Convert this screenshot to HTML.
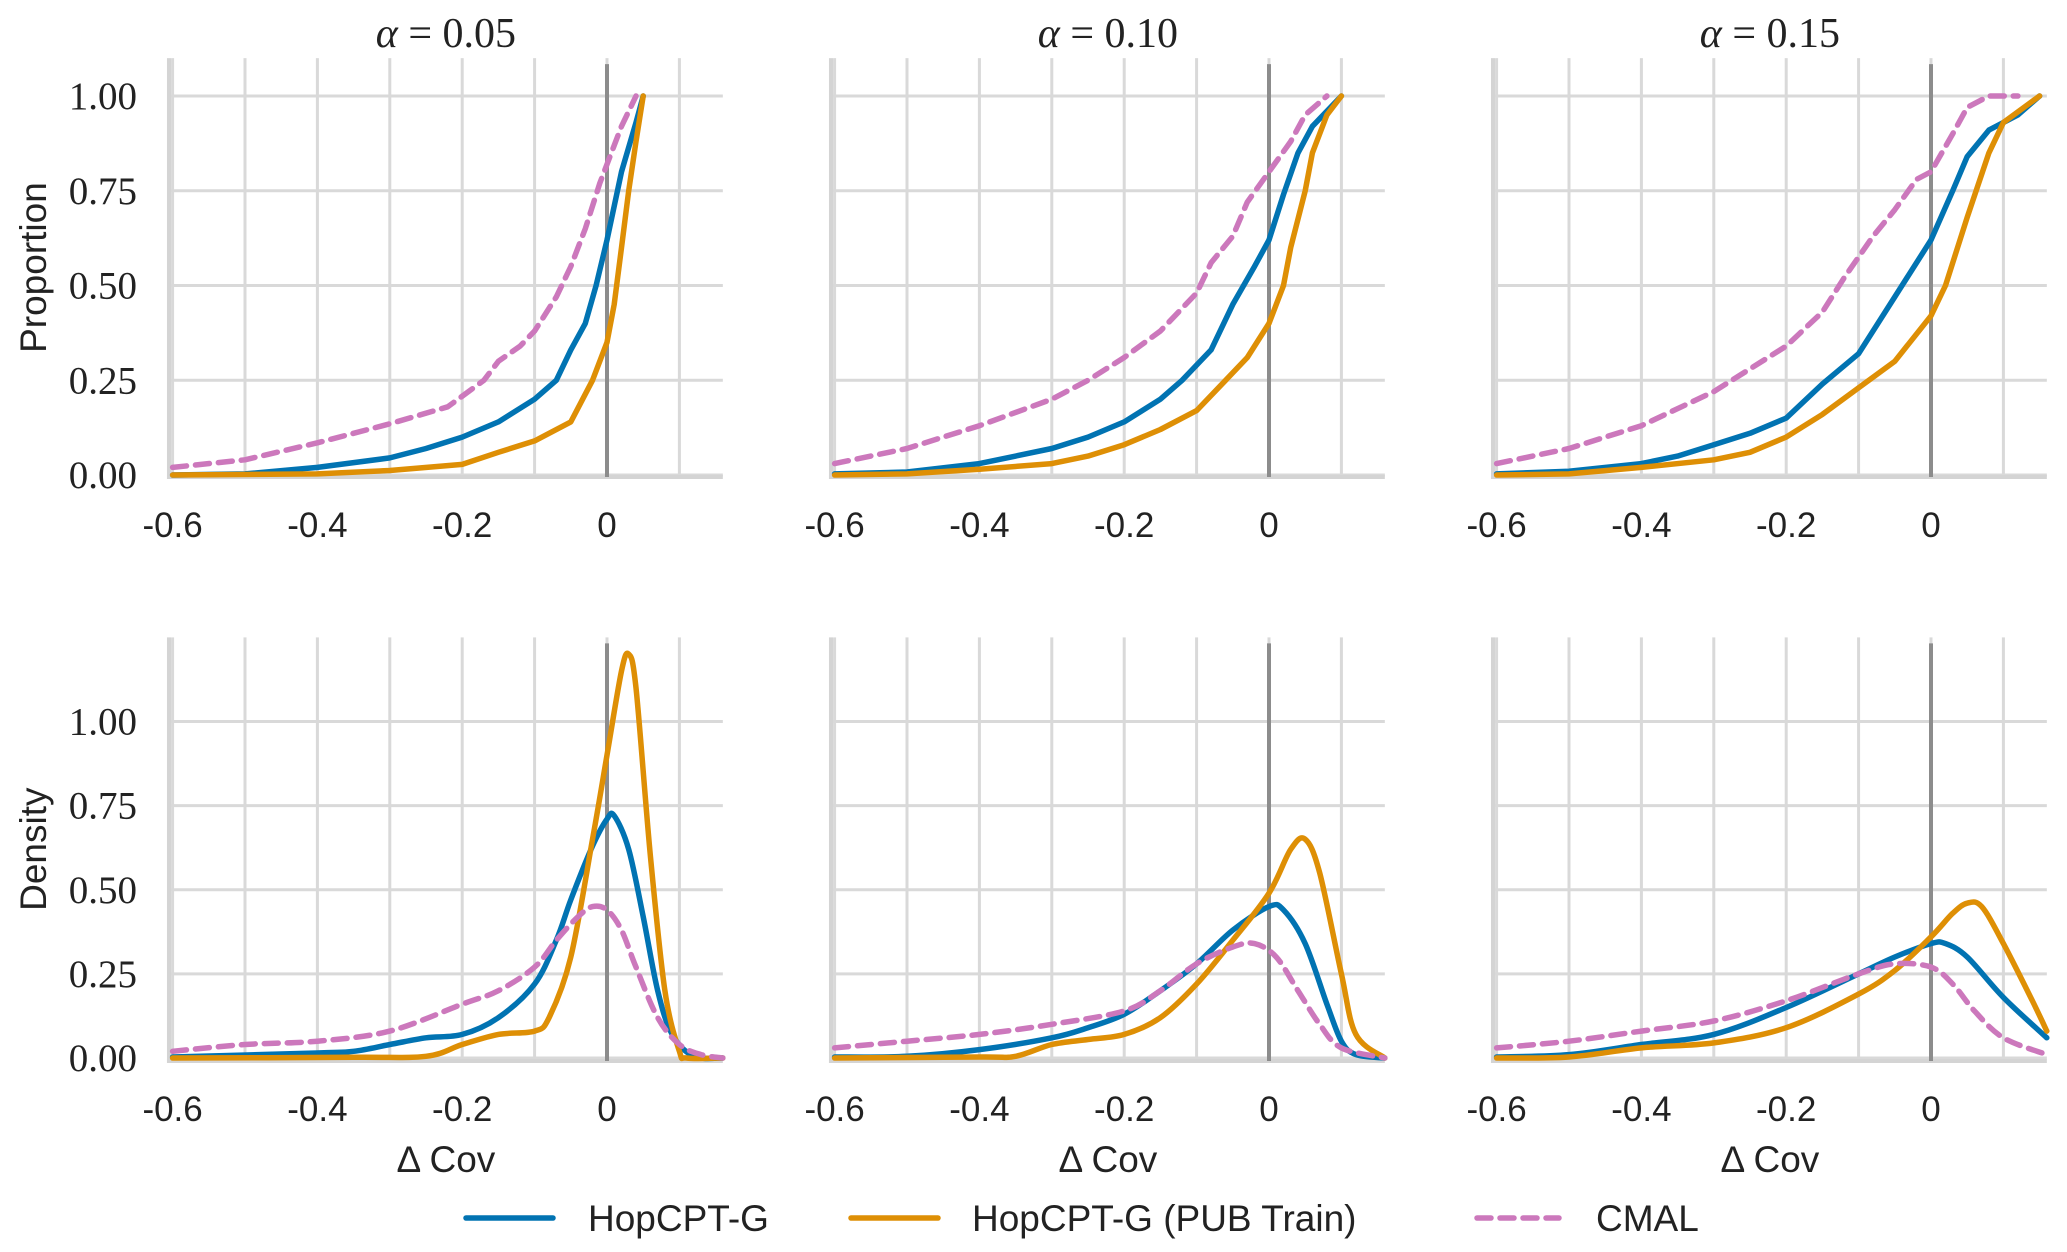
<!DOCTYPE html>
<html><head><meta charset="utf-8">
<style>
html,body{margin:0;padding:0;background:#fff;}
svg{display:block;}
.tk{font-family:"Liberation Serif",serif;font-size:39px;fill:#222;}
.xt{font-family:"Liberation Sans",sans-serif;font-size:35px;fill:#222;}
.lb{font-family:"Liberation Sans",sans-serif;font-size:37px;fill:#222;}
.ti{font-family:"Liberation Serif",serif;font-size:42px;fill:#222;}
</style></head>
<body>
<svg id="chart" width="2067" height="1252" xmlns="http://www.w3.org/2000/svg"></svg>
<script>
const alphas=["0.05","0.10","0.15"];
const seriesNames=["HopCPT-G","HopCPT-G (PUB Train)","CMAL"];
const xTicks=[-0.6,-0.4,-0.2,0];
const xTickLabels=["-0.6","-0.4","-0.2","0"];
const yTicks=[0,0.25,0.5,0.75,1];
const yTickLabels=["0.00","0.25","0.50","0.75","1.00"];
// ECDF data [x,y]
const ecdfBlue1=[[-0.6,0],[-0.5,0.003],[-0.4,0.02],[-0.3,0.045],[-0.25,0.07],[-0.2,0.1],[-0.15,0.14],[-0.1,0.2],[-0.07,0.25],[-0.05,0.33],[-0.03,0.4],[-0.015,0.5],[0,0.62],[0.02,0.8],[0.04,0.93],[0.05,1]];
const ecdfOrange1=[[-0.6,0],[-0.4,0.003],[-0.3,0.012],[-0.2,0.028],[-0.15,0.06],[-0.1,0.09],[-0.05,0.14],[-0.02,0.25],[0,0.35],[0.01,0.45],[0.02,0.6],[0.03,0.75],[0.04,0.88],[0.05,1]];
const ecdfPink1=[[-0.6,0.02],[-0.5,0.04],[-0.4,0.085],[-0.3,0.135],[-0.22,0.18],[-0.17,0.25],[-0.15,0.3],[-0.12,0.34],[-0.1,0.38],[-0.07,0.47],[-0.05,0.55],[-0.03,0.65],[-0.01,0.77],[0.02,0.92],[0.04,1]];
const ecdfBlue2=[[-0.6,0.003],[-0.5,0.008],[-0.4,0.03],[-0.3,0.07],[-0.25,0.1],[-0.2,0.14],[-0.15,0.2],[-0.12,0.25],[-0.08,0.33],[-0.05,0.45],[-0.02,0.55],[0,0.62],[0.02,0.74],[0.04,0.85],[0.06,0.92],[0.08,0.96],[0.1,1]];
const ecdfOrange2=[[-0.6,0],[-0.5,0.003],[-0.4,0.015],[-0.3,0.03],[-0.25,0.05],[-0.2,0.08],[-0.15,0.12],[-0.1,0.17],[-0.06,0.25],[-0.03,0.31],[0,0.4],[0.02,0.5],[0.03,0.6],[0.05,0.75],[0.06,0.85],[0.08,0.95],[0.1,1]];
const ecdfPink2=[[-0.6,0.03],[-0.5,0.07],[-0.4,0.13],[-0.3,0.2],[-0.25,0.25],[-0.2,0.31],[-0.15,0.38],[-0.1,0.48],[-0.08,0.56],[-0.05,0.63],[-0.03,0.72],[0,0.8],[0.03,0.88],[0.05,0.95],[0.08,1]];
const ecdfBlue3=[[-0.6,0.003],[-0.5,0.01],[-0.4,0.03],[-0.35,0.05],[-0.3,0.08],[-0.25,0.11],[-0.2,0.15],[-0.15,0.24],[-0.1,0.32],[-0.05,0.47],[0,0.62],[0.03,0.75],[0.05,0.84],[0.08,0.91],[0.12,0.95],[0.15,1]];
const ecdfOrange3=[[-0.6,0],[-0.5,0.003],[-0.4,0.02],[-0.3,0.04],[-0.25,0.06],[-0.2,0.1],[-0.15,0.16],[-0.1,0.23],[-0.05,0.3],[0,0.42],[0.02,0.5],[0.05,0.68],[0.08,0.85],[0.1,0.93],[0.15,1]];
const ecdfPink3=[[-0.6,0.03],[-0.5,0.07],[-0.4,0.13],[-0.3,0.22],[-0.25,0.28],[-0.2,0.34],[-0.15,0.43],[-0.12,0.52],[-0.08,0.63],[-0.05,0.7],[-0.02,0.78],[0,0.8],[0.03,0.9],[0.05,0.97],[0.08,1],[0.12,1]];
// Density data [x,y]
const densBlue1=[[-0.6,0.003],[-0.4,0.015],[-0.35,0.02],[-0.3,0.04],[-0.25,0.06],[-0.2,0.07],[-0.15,0.12],[-0.1,0.22],[-0.07,0.35],[-0.05,0.47],[-0.02,0.63],[0,0.71],[0.01,0.72],[0.03,0.62],[0.05,0.42],[0.07,0.2],[0.09,0.07],[0.12,0.005],[0.16,0]];
const densOrange1=[[-0.6,0],[-0.35,0.002],[-0.25,0.005],[-0.2,0.04],[-0.15,0.07],[-0.1,0.08],[-0.08,0.12],[-0.05,0.3],[-0.02,0.65],[0,0.9],[0.02,1.15],[0.03,1.2],[0.04,1.1],[0.06,0.6],[0.08,0.2],[0.1,0.02],[0.11,0],[0.16,0]];
const densPink1=[[-0.6,0.02],[-0.5,0.04],[-0.4,0.05],[-0.3,0.08],[-0.2,0.16],[-0.15,0.2],[-0.1,0.27],[-0.07,0.35],[-0.04,0.42],[-0.02,0.45],[0,0.44],[0.02,0.38],[0.04,0.27],[0.07,0.12],[0.1,0.04],[0.13,0.01],[0.16,0]];
const densBlue2=[[-0.6,0.003],[-0.5,0.005],[-0.4,0.025],[-0.3,0.06],[-0.25,0.09],[-0.2,0.13],[-0.15,0.2],[-0.1,0.28],[-0.05,0.38],[0,0.45],[0.02,0.44],[0.05,0.34],[0.08,0.16],[0.1,0.05],[0.12,0.01],[0.16,0]];
const densOrange2=[[-0.6,0],[-0.4,0.003],[-0.35,0.005],[-0.3,0.04],[-0.25,0.055],[-0.2,0.07],[-0.15,0.12],[-0.1,0.22],[-0.05,0.35],[0,0.49],[0.03,0.62],[0.05,0.65],[0.07,0.55],[0.1,0.25],[0.12,0.07],[0.16,0]];
const densPink2=[[-0.6,0.03],[-0.5,0.05],[-0.4,0.07],[-0.3,0.1],[-0.2,0.14],[-0.15,0.2],[-0.1,0.28],[-0.05,0.33],[-0.02,0.34],[0.01,0.3],[0.04,0.2],[0.07,0.1],[0.1,0.03],[0.16,0]];
const densBlue3=[[-0.6,0.003],[-0.5,0.01],[-0.4,0.04],[-0.3,0.07],[-0.2,0.15],[-0.1,0.25],[-0.05,0.3],[0,0.34],[0.02,0.34],[0.05,0.3],[0.1,0.18],[0.16,0.06]];
const densOrange3=[[-0.6,0],[-0.5,0.003],[-0.4,0.03],[-0.3,0.045],[-0.2,0.09],[-0.1,0.19],[-0.05,0.26],[0,0.36],[0.03,0.43],[0.05,0.46],[0.07,0.45],[0.1,0.34],[0.14,0.17],[0.16,0.08]];
const densPink3=[[-0.6,0.03],[-0.5,0.05],[-0.4,0.08],[-0.3,0.11],[-0.2,0.17],[-0.1,0.25],[-0.05,0.28],[0,0.27],[0.03,0.22],[0.06,0.14],[0.1,0.06],[0.16,0.01]];

const ecdfSets=[[ecdfBlue1,ecdfOrange1,ecdfPink1],[ecdfBlue2,ecdfOrange2,ecdfPink2],[ecdfBlue3,ecdfOrange3,ecdfPink3]];
const densSets=[[densBlue1,densOrange1,densPink1],[densBlue2,densOrange2,densPink2],[densBlue3,densOrange3,densPink3]];

const NS="http://www.w3.org/2000/svg";
const svg=document.getElementById('chart');
const colors=["#0173b2","#de8f05","#cc78bc"];
const XMIN=-0.605,XMAX=0.16,PXU=724,COLOFF=662,ZERO0=607;
function mk(tag,attrs,parent){const e=document.createElementNS(NS,tag);for(const k in attrs)e.setAttribute(k,attrs[k]);(parent||svg).appendChild(e);return e;}
function xs(col,v){return ZERO0+col*COLOFF+v*PXU;}
function smoothPath(pts){
  let d='M'+pts[0][0].toFixed(1)+','+pts[0][1].toFixed(1);
  for(let i=0;i<pts.length-1;i++){
    const p0=pts[Math.max(0,i-1)],p1=pts[i],p2=pts[i+1],p3=pts[Math.min(pts.length-1,i+2)];
    const c1x=p1[0]+(p2[0]-p0[0])/6,c1y=p1[1]+(p2[1]-p0[1])/6;
    const c2x=p2[0]-(p3[0]-p1[0])/6,c2y=p2[1]-(p3[1]-p1[1])/6;
    d+=` C${c1x.toFixed(1)},${c1y.toFixed(1)} ${c2x.toFixed(1)},${c2y.toFixed(1)} ${p2[0].toFixed(1)},${p2[1].toFixed(1)}`;
  }
  return d;
}
const rows=[{y0:475,pu:379,ymax:1.1,spine:477,sets:ecdfSets,ylabel:"Proportion"},
            {y0:1058,pu:336.5,ymax:1.25,spine:1061,sets:densSets,ylabel:"Density"}];
rows.forEach((r,ri)=>{
  const ys=v=>r.y0-v*r.pu;
  for(let c=0;c<3;c++){
    const g=mk('g',{});
    
    
    const L=xs(c,XMIN),R=xs(c,XMAX),T=ys(r.ymax);
    for(let k=-6;k<=1;k++){const x=xs(c,k/10);const gl=mk('line',{x1:x,x2:x,y1:T,y2:r.spine,stroke:"#d9d9d9","stroke-width":3},g);
      }
    yTicks.forEach(v=>{const y=ys(v);const gl=mk('line',{x1:L,x2:R,y1:y,y2:y,stroke:"#d9d9d9","stroke-width":3},g);
      });
    const sp1=mk('line',{x1:L,x2:L,y1:T,y2:r.spine+2,stroke:"#d4d4d4","stroke-width":4},g);
    
    const sp2=mk('line',{x1:L-2,x2:R,y1:r.spine,y2:r.spine,stroke:"#d4d4d4","stroke-width":4},g);
    
    const zl=mk('line',{x1:xs(c,0),x2:xs(c,0),y1:T+6,y2:r.spine,stroke:"#8c8c8c","stroke-width":4},g);
    
    r.sets[c].forEach((data,si)=>{
      const pts=data.map(p=>[xs(c,p[0]),ys(p[1])]);
      const d=ri==1?smoothPath(pts):pts.map((p,i)=>(i?'L':'M')+p[0].toFixed(1)+','+p[1].toFixed(1)).join(' ');
      const attrs={d:d,fill:"none",stroke:colors[si],"stroke-width":5.5,"stroke-linejoin":"round","stroke-linecap":"round"};
      if(si==2)attrs["stroke-dasharray"]="14,9";
      const p=mk('path',attrs,g);
      
      
    });
    xTicks.forEach((v,i)=>{const t=mk('text',{x:xs(c,v),y:r.spine+60,"text-anchor":"middle",class:"xt"},g);t.textContent=xTickLabels[i];
      });
    if(c==0){
      yTicks.forEach((v,i)=>{const t=mk('text',{x:137,y:ys(v)+13,"text-anchor":"end",class:"tk"},g);t.textContent=yTickLabels[i];
        });
      const yl=mk('text',{x:0,y:0,"text-anchor":"middle",class:"lb",transform:`translate(46,${(T+r.spine)/2}) rotate(-90)`},g);
      yl.textContent=r.ylabel;
      
    }
    if(ri==0){const t=mk('text',{x:(L+R)/2,y:47,"text-anchor":"middle",class:"ti"},g);
      t.innerHTML='<tspan font-style="italic">α</tspan> = '+alphas[c];
      }
    else{const t=mk('text',{x:(L+R)/2,y:1172,"text-anchor":"middle",class:"lb"},g);t.textContent='Δ Cov';
      }
  }
});
// legend
const legX=[[466,553,588],[851,938,972],[1477,1559,1596]];
seriesNames.forEach((n,i)=>{
  const g=mk('g',{});
  
  
  const a={x1:legX[i][0],x2:legX[i][1],y1:1218,y2:1218,stroke:colors[i],"stroke-width":5.5,"stroke-linecap":"round"};
  if(i==2)a["stroke-dasharray"]="14,9";
  const ln=mk('line',a,g);
  
  const t=mk('text',{x:legX[i][2],y:1231,class:"lb"},g);t.textContent=n;
  
});
</script>
</body></html>
